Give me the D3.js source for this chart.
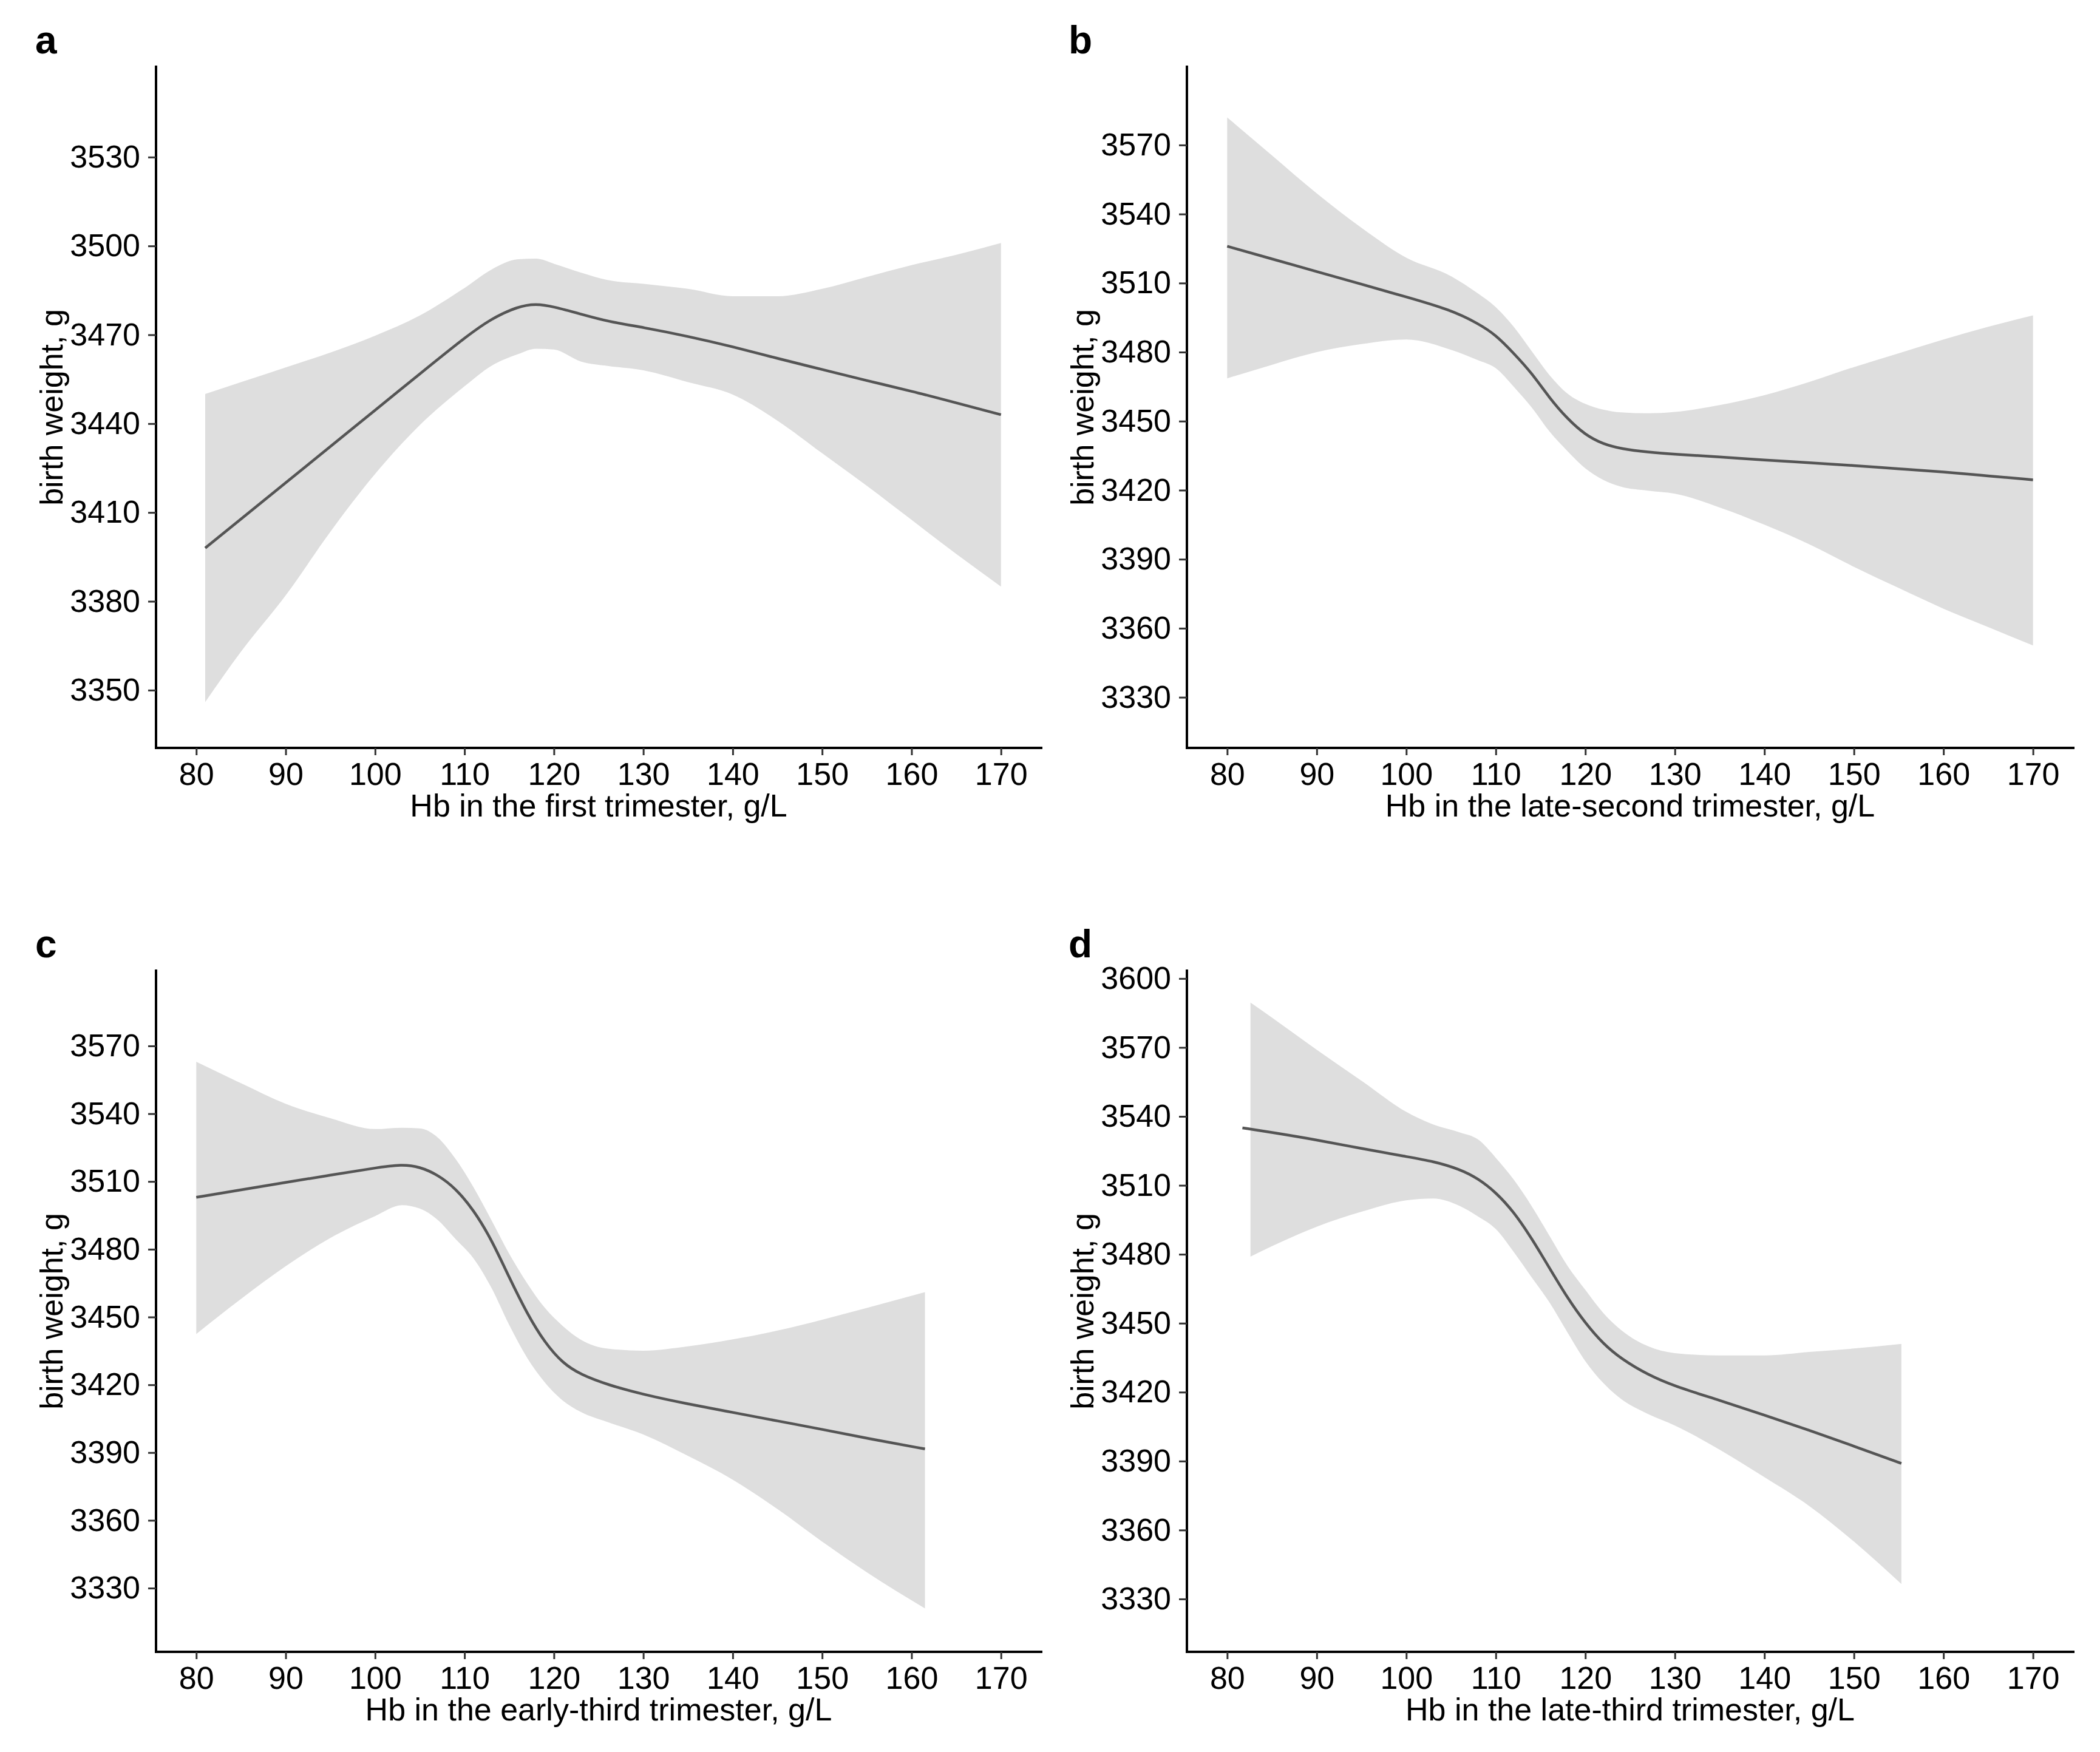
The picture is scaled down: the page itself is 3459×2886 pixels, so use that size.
<!DOCTYPE html>
<html>
<head>
<meta charset="utf-8">
<script src="https://cdnjs.cloudflare.com/ajax/libs/d3/7.8.5/d3.min.js"></script>
<style>
  body { margin: 0; background: #fff; }
  text { font-family: "Liberation Sans", Arial, sans-serif; }
</style>
</head>
<body>
<script>

// panel a - first trimester
var aX   = [81, 85, 90, 95, 100, 105, 110, 113, 116, 118, 120, 123, 126, 130, 135, 140, 145, 150, 155, 160, 165, 170];
var aFit = [3398, 3407.8, 3420, 3432.3, 3444.5, 3456.8, 3469, 3475.5, 3479.6, 3480.5, 3479.5, 3477, 3474.5, 3472.5, 3469.5, 3466, 3462, 3458.3, 3454.5, 3451, 3447, 3443];
var aHi  = [3450, 3454, 3459, 3464, 3469.7, 3476.5, 3485.8, 3492, 3495.5, 3495.7, 3494, 3491, 3488.5, 3487.2, 3485.5, 3483, 3483, 3485.5, 3489.5, 3493.5, 3497, 3501];
var aLo  = [3346, 3363, 3382, 3403.5, 3423, 3439.5, 3452.6, 3459.5, 3463.5, 3465.3, 3465, 3461, 3459.5, 3458, 3454, 3449.8, 3441, 3430, 3419, 3407.5, 3396, 3385];

// panel b - late-second trimester
var bX   = [80, 85, 90, 95, 100, 105, 108, 110, 112, 114, 116, 118, 120, 122, 124, 127, 130, 135, 140, 145, 150, 155, 160, 165, 170];
var bFit = [3526, 3520.5, 3515, 3509.5, 3504, 3498.3, 3492.5, 3487.5, 3479.5, 3471, 3460, 3451, 3444, 3440, 3438, 3436.5, 3435.6, 3434.5, 3433, 3432, 3430.7, 3429.3, 3428, 3426.2, 3424.5];
var bHi  = [3582, 3565.5, 3549, 3534, 3521, 3513, 3505.5, 3499.5, 3491, 3480.5, 3470, 3462, 3457.5, 3455, 3453.8, 3453.4, 3454, 3457, 3461.3, 3467, 3473.5, 3479.5, 3485.5, 3491, 3496];
var bLo  = [3468.6, 3474.5, 3480, 3483.5, 3485.5, 3481, 3476.5, 3473, 3465, 3456, 3445.5, 3437, 3429.5, 3424.5, 3421.5, 3419.8, 3418.5, 3412.5, 3405, 3396.5, 3386.7, 3377.5, 3368.5, 3360.5, 3352.5];

// panel c - early-third trimester
var cX   = [80, 85, 90, 95, 100, 103, 105, 107, 109, 111, 113, 115, 117, 119, 121, 123, 126, 130, 135, 140, 145, 150, 155, 161.5];
var cFit = [3503, 3506.3, 3509.6, 3512.8, 3516, 3517.6, 3516.5, 3513, 3507, 3497.5, 3484.5, 3467.5, 3451.5, 3438.5, 3429.5, 3424.5, 3420, 3415.7, 3411.5, 3407.8, 3404, 3400.3, 3396.3, 3391.6];
var cHi  = [3563, 3553.5, 3544.4, 3538, 3533.2, 3533.8, 3533.5, 3529.5, 3520, 3507.5, 3493, 3478, 3465, 3454, 3446, 3440, 3436, 3435.1, 3437, 3440.1, 3444, 3448.8, 3454, 3461];
var cLo  = [3442.5, 3458, 3472.5, 3485, 3494.7, 3499.5, 3498, 3493, 3484.5, 3476, 3463, 3446.5, 3432, 3421, 3413, 3408, 3403.5, 3398, 3388.5, 3378, 3365, 3350.6, 3337, 3321];

// panel d - late-third trimester (fit starts a bit before the band)
var dX   = [81.7, 82.6, 85, 90, 95, 100, 103, 106, 108, 110, 112, 114, 116, 118, 120, 122, 124, 127, 130, 135, 140, 145, 150, 155.3];
var dFit = [3535, 3534.5, 3533, 3529.8, 3526, 3522.5, 3520.5, 3517, 3513, 3507, 3498.5, 3487, 3474, 3461, 3450, 3441, 3434.5, 3427.5, 3422.5, 3416.5, 3410, 3403.5, 3396.5, 3389];
var dHi  = [null, 3589.5, 3583, 3569, 3555.5, 3542, 3536.5, 3533, 3530, 3522, 3512.5, 3501, 3488, 3475, 3464.5, 3454.5, 3447, 3440, 3437, 3436, 3436, 3437.5, 3439, 3441];
var dLo  = [null, 3479, 3483.5, 3492, 3498.5, 3503.5, 3504.3, 3501, 3496.5, 3491, 3481, 3470, 3459, 3446, 3433.5, 3424, 3417, 3410.5, 3405.5, 3395, 3383, 3370.5, 3355, 3336.5];

var xTicks  = [80, 90, 100, 110, 120, 130, 140, 150, 160, 170];
var aYTicks = [3350, 3380, 3410, 3440, 3470, 3500, 3530];
var bYTicks = [3330, 3360, 3390, 3420, 3450, 3480, 3510, 3540, 3570];
var cYTicks = [3330, 3360, 3390, 3420, 3450, 3480, 3510, 3540, 3570];
var dYTicks = [3330, 3360, 3390, 3420, 3450, 3480, 3510, 3540, 3570, 3600];

var W = 3459, H = 2886;
var svg = d3.select("body").append("svg")
  .attr("width", W)
  .attr("height", H);
svg.append("rect").attr("width", W).attr("height", H).attr("fill", "#fff");

var panels = [
  { tag: "a", xs: aX, fit: aFit, hi: aHi, lo: aLo, yt: aYTicks, yd: [3330.5, 3560.5],
    box: [257, 1715, 110, 1232], lab: [58, 88], title: "Hb in the first trimester, g/L" },
  { tag: "b", xs: bX, fit: bFit, hi: bHi, lo: bLo, yt: bYTicks, yd: [3308, 3604],
    box: [1955, 3415, 110, 1232], lab: [1760, 88], title: "Hb in the late-second trimester, g/L" },
  { tag: "c", xs: cX, fit: cFit, hi: cHi, lo: cLo, yt: cYTicks, yd: [3301.8, 3603.3],
    box: [257, 1715, 1599, 2721], lab: [58, 1577], title: "Hb in the early-third trimester, g/L" },
  { tag: "d", xs: dX, fit: dFit, hi: dHi, lo: dLo, yt: dYTicks, yd: [3307, 3603.4],
    box: [1955, 3415, 1599, 2721], lab: [1760, 1577], title: "Hb in the late-third trimester, g/L" }
];

panels.forEach(function(p){
  var L = p.box[0], R = p.box[1], T = p.box[2], B = p.box[3];
  var x = d3.scaleLinear().domain([75.5, 174.5]).range([L, R]);
  var y = d3.scaleLinear().domain(p.yd).range([B, T]);

  var rows = p.xs.map(function(v, i){
    return { x: v, fit: p.fit[i], hi: p.hi[i], lo: p.lo[i] };
  });

  // confidence band
  var band = d3.area()
    .defined(function(d){ return d.hi != null; })
    .x(function(d){ return x(d.x); })
    .y0(function(d){ return y(d.lo); })
    .y1(function(d){ return y(d.hi); })
    .curve(d3.curveMonotoneX);
  svg.append("path").datum(rows)
    .attr("d", band)
    .attr("fill", "#dedede");

  // fitted line
  var line = d3.line()
    .x(function(d){ return x(d.x); })
    .y(function(d){ return y(d.fit); })
    .curve(d3.curveBasis);
  svg.append("path").datum(rows)
    .attr("d", line)
    .attr("fill", "none")
    .attr("stroke", "#555")
    .attr("stroke-width", 4.5);

  // axes
  var gx = svg.append("g").attr("transform", "translate(0," + B + ")")
    .call(d3.axisBottom(x).tickValues(xTicks).tickFormat(d3.format("d"))
      .tickSize(12).tickSizeOuter(0).tickPadding(12));
  var gy = svg.append("g").attr("transform", "translate(" + L + ",0)")
    .call(d3.axisLeft(y).tickValues(p.yt).tickFormat(d3.format("d"))
      .tickSize(13).tickSizeOuter(0).tickPadding(13));

  [gx, gy].forEach(function(g){
    g.select(".domain").attr("stroke", "#000").attr("stroke-width", 4).attr("stroke-linecap", "square");
    g.selectAll(".tick line").attr("stroke", "#333").attr("stroke-width", 3);
    g.selectAll(".tick text").attr("fill", "#000").attr("font-size", 52)
      .style("font-family", "'Liberation Sans', Arial, sans-serif");
  });
  // make the two axis lines meet at the corner
  gx.select(".domain").attr("d", "M" + L + ",0H" + R);
  gy.select(".domain").attr("d", "M0," + B + "V" + T);

  // axis titles
  svg.append("text")
    .attr("x", (L + R) / 2)
    .attr("y", B + 113)
    .attr("text-anchor", "middle")
    .attr("font-size", 52)
    .attr("fill", "#000")
    .text(p.title);

  svg.append("text")
    .attr("transform", "translate(" + (L - 154) + "," + ((T + B) / 2) + ") rotate(-90)")
    .attr("text-anchor", "middle")
    .attr("font-size", 52)
    .attr("fill", "#000")
    .text("birth weight, g");

  // panel letter
  svg.append("text")
    .attr("x", p.lab[0])
    .attr("y", p.lab[1])
    .attr("font-size", 64)
    .attr("font-weight", "bold")
    .attr("fill", "#000")
    .text(p.tag);
});

</script>
</body>
</html>
